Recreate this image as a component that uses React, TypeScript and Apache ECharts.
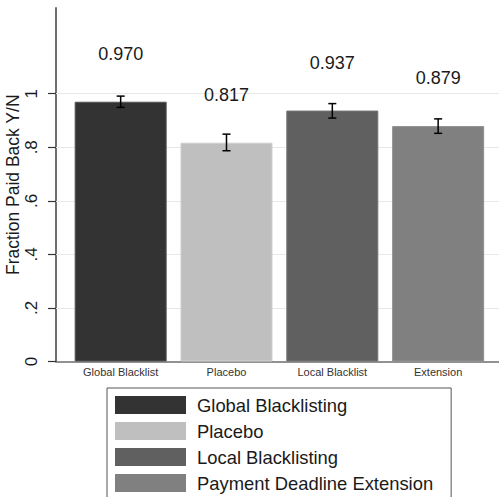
import React, { useEffect, useRef } from "react";
import * as echarts from "echarts";

const categories = ["Global Blacklist", "Placebo", "Local Blacklist", "Extension"];
const legendNames = ["Global Blacklisting", "Placebo", "Local Blacklisting", "Payment Deadline Extension"];
const means = [0.97, 0.817, 0.937, 0.879];
const ciLower = [0.949, 0.787, 0.909, 0.852];
const ciUpper = [0.991, 0.849, 0.963, 0.906];
const yTicks = [0, 0.2, 0.4, 0.6, 0.8, 1];
const colors = ["#333333", "#bfbfbf", "#606060", "#808080"];
const borders = ["#555555", "#cfcfcf", "#747474", "#909090"];

const FONT = "Liberation Sans, Arial, sans-serif";

export default function App() {
  const ref = useRef<HTMLDivElement>(null);
  useEffect(() => {
    if (!ref.current) return;
    const chart = echarts.init(ref.current, undefined, { renderer: "svg" });
    const barSeries = categories.map((c, i) => ({
      name: legendNames[i],
      type: "bar",
      data: [[i, means[i]]],
      barWidth: 92,
      barGap: "-100%",
      z: 2,
      itemStyle: { color: colors[i], borderColor: borders[i], borderWidth: 1 },
      label: {
        show: true,
        position: "top",
        distance: 39,
        fontSize: 18,
        fontFamily: FONT,
        color: "#1a1a1a",
        formatter: (p: any) => p.value[1].toFixed(3),
      },
    }));
    const option: any = {
      animation: false,
      textStyle: { fontFamily: FONT },
      grid: { left: 56, right: 0, top: 8, bottom: 135.5, containLabel: false, outerBoundsMode: "none" },
      xAxis: {
        type: "value",
        min: -0.611,
        max: 3.575,
        axisLine: { show: true, onZero: false, lineStyle: { color: "#6e6e6e", width: 1.5 } },
        axisTick: { show: false },
        splitLine: { show: false },
        axisLabel: {
          customValues: [0, 1, 2, 3],
          formatter: (v: number) => categories[Math.round(v)] ?? "",
          fontSize: 11,
          color: "#333",
          margin: 5,
          fontFamily: FONT,
        },
      },
      yAxis: {
        type: "value",
        min: 0,
        max: 1.32,
        name: "Fraction Paid Back Y/N",
        nameLocation: "middle",
        nameGap: 34,
        nameMoveOverlap: false,
        nameTextStyle: { fontSize: 17.5, color: "#1a1a1a", fontFamily: FONT },
        axisLine: { show: true, onZero: false, lineStyle: { color: "#6e6e6e", width: 2 } },
        axisTick: { show: true, customValues: yTicks, length: 8, lineStyle: { color: "#333", width: 1.2 } },
        splitLine: { show: false },
        axisLabel: {
          customValues: yTicks,
          rotate: 90,
          fontSize: 17,
          color: "#1a1a1a",
          margin: 16,
          fontFamily: FONT,
          formatter: (v: number) => (v === 0 ? "0" : v === 1 ? "1" : "." + Math.round(v * 10)),
        },
      },
      legend: {
        show: true,
        orient: "vertical",
        left: 107,
        top: 388,
        height: 140,
        padding: [8, 18, 8, 8],
        itemWidth: 71,
        itemHeight: 18,
        itemGap: 8,
        icon: "rect",
        selectedMode: false,
        borderColor: "#555",
        borderWidth: 1,
        data: legendNames,
        itemStyle: { borderWidth: 0 },
        textStyle: { fontSize: 18.4, color: "#1a1a1a", fontFamily: FONT, lineHeight: 18, padding: [0, 0, 0, 6] },
      },
      series: [
        {
          type: "line",
          data: [],
          silent: true,
          markLine: {
            silent: true,
            symbol: "none",
            z: 1,
            label: { show: false },
            lineStyle: { color: "#e8e8e8", width: 1, type: "solid" },
            data: yTicks.filter((t) => t > 0).map((t) => ({ yAxis: t })),
          },
        },
        ...barSeries,
        {
          type: "custom",
          z: 5,
          data: categories.map((c, i) => [i, ciLower[i], ciUpper[i]]),
          renderItem: (params: any, api: any) => {
            const lo = api.coord([api.value(0), api.value(1)]);
            const hi = api.coord([api.value(0), api.value(2)]);
            const hw = 4;
            const style = { stroke: "#000", lineWidth: 1.5 };
            return {
              type: "group",
              children: [
                { type: "line", shape: { x1: lo[0], y1: lo[1], x2: hi[0], y2: hi[1] }, style },
                { type: "line", shape: { x1: lo[0] - hw, y1: lo[1], x2: lo[0] + hw, y2: lo[1] }, style },
                { type: "line", shape: { x1: hi[0] - hw, y1: hi[1], x2: hi[0] + hw, y2: hi[1] }, style },
              ],
            };
          },
        },
      ],
    };
    chart.setOption(option);
    return () => chart.dispose();
  }, []);
  return (
    <div
      ref={ref}
      style={{ position: "fixed", left: 0, top: 0, width: 499, height: 497, background: "#fff" }}
    />
  );
}
